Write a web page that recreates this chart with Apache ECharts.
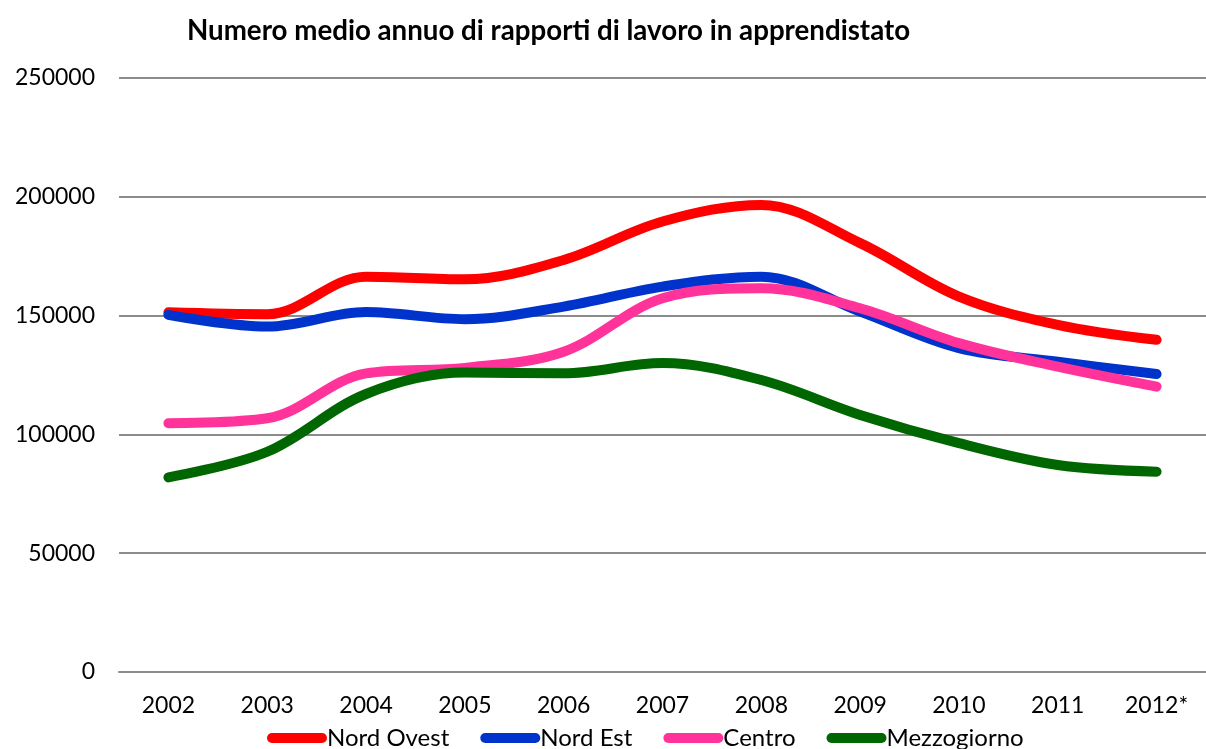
<!DOCTYPE html>
<html>
<head>
<meta charset="utf-8">
<script src="https://cdn.jsdelivr.net/npm/echarts@6/dist/echarts.min.js"></script>
<style>html,body{margin:0;padding:0;background:#fff;}#c{width:1206px;height:749px;}</style>
</head>
<body>
<div id="c"></div>
<script>
const title = 'Numero medio annuo di rapporti di lavoro in apprendistato';
const categories = ['2002','2003','2004','2005','2006','2007','2008','2009','2010','2011','2012*'];
const nordOvest   = [151400, 150600, 166400, 165300, 173400, 189600, 196600, 180500, 158000, 146100, 139800];
const nordEst     = [150300, 145400, 151500, 148500, 153800, 162200, 166400, 151700, 136300, 130600, 125400];
const centro      = [104700, 106800, 125700, 128000, 134800, 157300, 161500, 153100, 138400, 128500, 120100];
const mezzogiorno = [81900, 92700, 117000, 126000, 125700, 130000, 122900, 108200, 96300, 87100, 84300];
const seriesNames = ['Nord Ovest','Nord Est','Centro','Mezzogiorno'];
const seriesColors = ['#FF0000','#0033CC','#FF3399','#006600'];
const seriesData = [nordOvest, nordEst, centro, mezzogiorno];

const FONT = 'Lato, "Noto Sans", sans-serif';
const chart = echarts.init(document.getElementById('c'), null, {renderer:'canvas'});
chart.setOption({
  animation: false,
  backgroundColor: '#fff',
  title: {
    text: title, left: 182, top: 12,
    textStyle: {fontFamily: FONT, fontWeight: 'bold', fontSize: 27.7, color: '#000'}
  },
  legend: {
    bottom: -6, left: 262,
    itemWidth: 60, itemHeight: 10, itemGap: 31,
    icon: 'path://M5,0 H55 A5,5 0 0 1 55,10 H5 A5,5 0 0 1 5,0 Z',
    textStyle: {fontFamily: FONT, fontSize: 24, color: '#000', padding: [0,0,0,-5]},
    data: seriesNames
  },
  grid: {left: 119, right: -10, top: 78, bottom: 77, containLabel: false},
  xAxis: {
    type: 'category', data: categories, boundaryGap: true,
    axisLine: {show: true, lineStyle: {color: '#8c8c8c', width: 2}},
    axisTick: {show: false},
    axisLabel: {fontFamily: FONT, fontSize: 23, color: '#000', margin: 22}
  },
  yAxis: {
    type: 'value', min: 0, max: 250000, interval: 50000,
    axisLine: {show: false}, axisTick: {show: false},
    splitLine: {lineStyle: {color: '#8c8c8c', width: 2}},
    axisLabel: {fontFamily: FONT, fontSize: 23, color: '#000', margin: 24, formatter: v => String(v)}
  },
  series: seriesNames.map((n, i) => ({
    name: n, type: 'line', data: seriesData[i], smooth: 0.35,
    showSymbol: false, symbol: 'none',
    color: seriesColors[i],
    lineStyle: {width: 10, color: seriesColors[i], cap: 'round', join: 'round'}
  }))
});
</script>
</body>
</html>
